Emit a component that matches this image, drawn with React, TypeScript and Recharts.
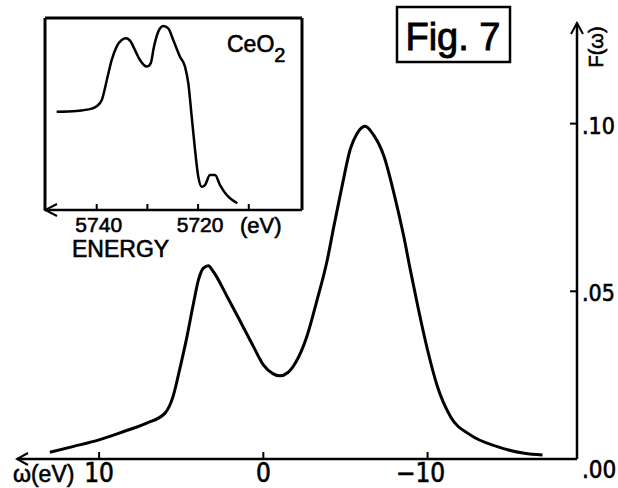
import React from 'react';
import { LineChart, Line, XAxis, YAxis } from 'recharts';

// ---- main spectrum F(ω) ----
const omegaValues = [
  13.0, 11.6, 10.0, 8.5, 7.1, 6.0, 5.5, 5.1, 4.65, 4.25, 3.95, 3.65, 3.35, 3.05, 2.2, 1.4, 0.6, 0.0,
  -0.6, -1.0, -1.5, -1.95, -2.65, -3.25, -3.9, -4.3, -4.8, -5.3, -5.7, -6.2, -6.7, -7.35, -7.95,
  -8.55, -8.95, -9.45, -10.0, -10.6, -11.4, -12.6, -14.25, -15.9, -17.0,
];
const fValues = [
  0.0020, 0.0037, 0.0057, 0.0082, 0.0107, 0.0136, 0.0186, 0.0266, 0.0365, 0.0465, 0.0534, 0.0569,
  0.0576, 0.0559, 0.0484, 0.0410, 0.0335, 0.0281, 0.0254, 0.0248, 0.0258, 0.0286, 0.0365, 0.047,
  0.0595, 0.0695, 0.0815, 0.0925, 0.0970, 0.0992, 0.0967, 0.0902, 0.0793, 0.0664, 0.0564, 0.0445,
  0.0325, 0.0216, 0.0126, 0.0072, 0.0037, 0.0017, 0.0012,
];
const omegaTicks = [10, 0, -10];
const fTicks = [0, 0.05, 0.1];
const fTickLabels = ['.00', '.05', '.10'];

// ---- inset: CeO2 absorption edge ----
const energyValues = [
  5747.9, 5744.0, 5741.0, 5740.0, 5739.0, 5738.0, 5737.05, 5736.06, 5735.07, 5734.2, 5733.3,
  5732.45, 5731.46, 5730.14, 5729.35, 5728.7, 5727.85, 5726.86, 5725.88, 5724.9, 5723.57, 5722.58,
  5721.93, 5721.26, 5720.6, 5719.96, 5719.29, 5718.64, 5717.65, 5716.66, 5715.67, 5714.35, 5712.26,
];
const absorptionValues = [
  0.512, 0.516, 0.528, 0.54, 0.573, 0.677, 0.781, 0.851, 0.885, 0.894, 0.877, 0.833, 0.781, 0.747,
  0.764, 0.851, 0.929, 0.958, 0.946, 0.885, 0.798, 0.747, 0.66, 0.486, 0.3125, 0.173, 0.121, 0.13,
  0.182, 0.182, 0.13, 0.078, 0.035,
];
const energyTicks = [5740, 5730, 5720, 5710];
const energyTickLabels = ['5740', '', '5720', ''];

const mainData = omegaValues.map((w, i) => ({ w, f: fValues[i] }));
const insetData = energyValues.map((e, i) => ({ e, a: absorptionValues[i] }));

const NARROW = "'Liberation Sans Narrow', 'DejaVu Sans Condensed', 'Liberation Sans', sans-serif";
const SANS = "'Liberation Sans', 'DejaVu Sans', sans-serif";
const PEN = { fill: '#000', stroke: '#000', strokeWidth: 0.6 };

const MainXTick = (props: any) => {
  const { x, y, payload } = props;
  const v = payload.value as number;
  const label = v < 0 ? '\u2212' + Math.abs(v) : String(v);
  return (
    <g>
      <line x1={x} y1={y} x2={x} y2={y - 7} stroke="#000" strokeWidth={2} />
      <text x={x + (v < 0 ? -7 : 0)} y={y + 23} textAnchor="middle" fontFamily={NARROW} fontSize={26} {...PEN}>
        {label}
      </text>
    </g>
  );
};

const MainYTick = (props: any) => {
  const { x, y, payload } = props;
  const v = payload.value as number;
  const idx = fTicks.indexOf(v);
  const isZero = v === 0;
  return (
    <g>
      {!isZero && <line x1={x - 7} y1={y} x2={x} y2={y} stroke="#000" strokeWidth={2} />}
      <text x={x + 5} y={y + (isZero ? 19 : 10)} textAnchor="start" fontFamily={NARROW} fontSize={isZero ? 24 : 23} {...PEN}>
        {fTickLabels[idx]}
      </text>
    </g>
  );
};

const InsetXTick = (props: any) => {
  const { x, y, payload } = props;
  const idx = energyTicks.indexOf(payload.value);
  const label = energyTickLabels[idx];
  return (
    <g>
      <line x1={x} y1={y} x2={x} y2={y - 6} stroke="#000" strokeWidth={2} />
      {label ? (
        <text x={x + 2} y={y + 22} textAnchor="middle" fontFamily={SANS} fontSize={21} {...PEN}>
          {label}
        </text>
      ) : null}
    </g>
  );
};

export default function App() {
  return (
    <div style={{ position: 'absolute', left: 0, top: 0, width: 618, height: 488, background: '#fff' }}>
      <div style={{ position: 'absolute', left: 0, top: 0 }}>
        <LineChart width={618} height={488} data={mainData} margin={{ top: 23, right: 0, bottom: 0, left: 17 }}>
          <defs>
            <marker id="arrMain" viewBox="-13 -8 15 16" refX={0} refY={0} markerWidth={15} markerHeight={16}
              markerUnits="userSpaceOnUse" orient="auto-start-reverse">
              <path d="M-11,-6 L0,0 L-11,6" fill="none" stroke="#000" strokeWidth={2} />
            </marker>
          </defs>
          <XAxis
            dataKey="w"
            type="number"
            domain={[-19.1, 15]}
            reversed
            ticks={omegaTicks}
            interval={0}
            height={29}
            tickSize={0}
            tickMargin={0}
            tickLine={false}
            axisLine={{ stroke: '#000', strokeWidth: 2.5, markerStart: 'url(#arrMain)' } as any}
            tick={<MainXTick />}
          />
          <YAxis
            orientation="right"
            type="number"
            domain={[0, 0.13]}
            ticks={fTicks}
            interval={0}
            width={41}
            tickSize={0}
            tickMargin={0}
            tickLine={false}
            axisLine={{ stroke: '#000', strokeWidth: 2.5, markerStart: 'url(#arrMain)' } as any}
            tick={<MainYTick />}
          />
          <Line
            dataKey="f"
            type="monotone"
            stroke="#000"
            strokeWidth={3}
            dot={false}
            isAnimationActive={false}
          />
        </LineChart>
      </div>

      <div style={{ position: 'absolute', left: 0, top: 0 }}>
        <LineChart width={320} height={260} data={insetData} margin={{ top: 17, right: 17, bottom: 0, left: 44 }}>
          <defs>
            <marker id="arrInset" viewBox="-14 -8 16 16" refX={0} refY={0} markerWidth={16} markerHeight={16}
              markerUnits="userSpaceOnUse" orient="auto-start-reverse">
              <path d="M-12,-6 L0,0 L-12,6" fill="none" stroke="#000" strokeWidth={2} />
            </marker>
          </defs>
          <XAxis
            dataKey="e"
            type="number"
            domain={[5699.5, 5750.2]}
            reversed
            ticks={energyTicks}
            interval={0}
            height={50}
            tickSize={0}
            tickMargin={0}
            tickLine={false}
            axisLine={{ stroke: '#000', strokeWidth: 2.5, markerStart: 'url(#arrInset)' } as any}
            tick={<InsetXTick />}
          />
          <XAxis
            xAxisId="top"
            orientation="top"
            dataKey="e"
            type="number"
            domain={[5699.5, 5750.2]}
            reversed
            height={1}
            tick={false}
            tickLine={false}
            axisLine={{ stroke: '#000', strokeWidth: 3 }}
          />
          <YAxis type="number" domain={[0, 1]} width={1} tick={false} tickLine={false}
            axisLine={{ stroke: '#000', strokeWidth: 3 }} />
          <YAxis yAxisId="r" orientation="right" type="number" domain={[0, 1]} width={1} tick={false}
            tickLine={false} axisLine={{ stroke: '#000', strokeWidth: 3 }} />
          <Line
            dataKey="a"
            type="monotone"
            stroke="#000"
            strokeWidth={2.5}
            dot={false}
            isAnimationActive={false}
          />
        </LineChart>
      </div>

      <svg width={618} height={488} style={{ position: 'absolute', left: 0, top: 0, pointerEvents: 'none' }}>
        <rect x={397} y={7} width={113} height={55} fill="none" stroke="#000" strokeWidth={2.5} />
        <text x={453} y={50} textAnchor="middle" fontFamily={SANS} fontSize={38} {...PEN} strokeWidth={0.9}>Fig. 7</text>
        <text x={603} y={47} textAnchor="middle" fontFamily={SANS} fontSize={20} {...PEN}
          transform="rotate(-90 603 47)">F(ω)</text>
        <text x={13} y={482} fontFamily={SANS} fontSize={23} {...PEN}>ω(eV)</text>
        <text x={72} y={257} fontFamily={SANS} fontSize={23} {...PEN}>ENERGY</text>
        <text x={240} y={233} fontFamily={SANS} fontSize={22} {...PEN}>(eV)</text>
        <text x={227} y={52} fontFamily={SANS} fontSize={23} {...PEN}>
          CeO<tspan dy={10} fontSize={20}>2</tspan>
        </text>
      </svg>
    </div>
  );
}
